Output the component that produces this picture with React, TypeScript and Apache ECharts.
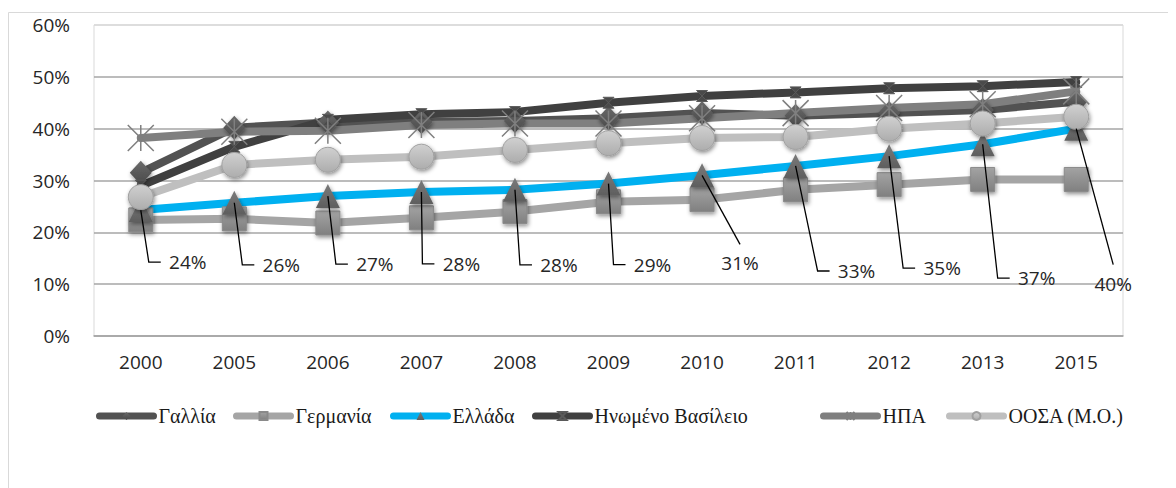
import React, { useEffect, useRef } from "react";
import * as echarts from "echarts";

const years = ["2000", "2005", "2006", "2007", "2008", "2009", "2010", "2011", "2012", "2013", "2015"];
const france = [31.5, 40.2, 41.2, 41.3, 41.5, 42.0, 43.0, 42.5, 43.0, 43.6, 45.2];
const germany = [22.4, 22.6, 21.8, 22.8, 24.0, 25.9, 26.3, 28.2, 29.2, 30.2, 30.2];
const greece = [24.3, 25.7, 27.0, 27.8, 28.2, 29.4, 31.0, 32.8, 34.7, 37.0, 40.0];
const uk = [29.0, 36.5, 41.7, 42.8, 43.2, 45.0, 46.3, 47.0, 47.8, 48.2, 49.0];
const usa = [38.2, 39.4, 39.6, 40.7, 41.0, 41.0, 42.0, 43.0, 44.0, 44.7, 47.2];
const oecd = [26.8, 33.0, 34.0, 34.6, 35.9, 37.2, 38.2, 38.4, 40.0, 41.0, 42.3];
const seriesNames = ["Γαλλία", "Γερμανία", "Ελλάδα", "Ηνωμένο Βασίλειο", "ΗΠΑ", "ΟΟΣΑ (Μ.Ο.)"];

// label placement offsets (px) for the Greece data labels, relative to each point (label centre)
const greeceLabelDx = [47, 47, 47, 40, 44, 44, 38, 61, 53, 54, 37];
const greeceLabelDy = [52, 62, 68, 72, 75, 81, 88, 105, 112, 134, 155];
// leader line attaches to the label's left side (L) or top (T)
const greeceLeaderSide = ["L", "L", "L", "L", "L", "L", "T", "L", "L", "L", "T"];
// legend item left positions (px)
const legendLefts = [88, 225, 382, 524, 812, 938];

const AXIS_FONT = "'Open Sans', 'DejaVu Sans', sans-serif";
const LEGEND_FONT = "'Liberation Serif', 'DejaVu Serif', serif";

const shadow = {
  shadowBlur: 4,
  shadowColor: "rgba(0,0,0,0.45)",
  shadowOffsetX: 1,
  shadowOffsetY: 2,
};

const grad = (top: string, bottom: string) =>
  new echarts.graphic.LinearGradient(0, 0, 0, 1, [
    { offset: 0, color: top },
    { offset: 1, color: bottom },
  ]);

export default function App() {
  const ref = useRef<HTMLDivElement>(null);
  useEffect(() => {
    if (!ref.current) return;
    const chart = echarts.init(ref.current, undefined, { renderer: "svg" });
    const lineBase = (name: string, data: number[], color: string) => ({
      name,
      type: "line",
      data,
      lineStyle: { color, width: 8, cap: "round", join: "round" },
      emphasis: { disabled: true },
    });
    chart.setOption({
      animation: false,
      graphic: [
        {
          type: "rect",
          shape: { x: 0.5, y: 4.5, width: 1300, height: 600 },
          style: { fill: "none", stroke: "#d9d9d9", lineWidth: 1 },
          silent: true,
        },
      ],
      grid: {
        left: 86,
        right: 53,
        top: 17,
        bottom: 152,
        show: true,
        borderColor: "#d9d9d9",
        borderWidth: 1,
      },
      legend: seriesNames.map((n, i) => ({
        data: [n],
        left: legendLefts[i],
        top: 398,
        padding: 0,
        itemWidth: 54,
        itemHeight: 10,
        lineStyle: { width: 7, cap: "round" },
        textStyle: { fontFamily: LEGEND_FONT, fontSize: 20, color: "#1a1a1a" },
        selectedMode: false,
      })),
      xAxis: {
        type: "category",
        data: years,
        boundaryGap: true,
        axisTick: { show: false },
        axisLine: { lineStyle: { color: "#a6a6a6", width: 1.5 } },
        axisLabel: { fontFamily: AXIS_FONT, fontSize: 19, color: "#262626", margin: 16 },
      },
      yAxis: {
        type: "value",
        min: 0,
        max: 60,
        interval: 10,
        axisLine: { show: false },
        axisTick: { show: false },
        axisLabel: {
          formatter: "{value}%",
          fontFamily: AXIS_FONT,
          fontSize: 19,
          color: "#262626",
          margin: 24,
        },
        splitLine: {
          lineStyle: {
            color: ["#a6a6a6", "#a6a6a6", "#a6a6a6", "#a6a6a6", "#a6a6a6", "#a6a6a6", "#d9d9d9"],
            width: 1.5,
          },
        },
      },
      series: [
        {
          ...lineBase(seriesNames[0], france, "#525252"),
          symbol: "diamond",
          symbolSize: [22, 24],
          itemStyle: { color: grad("#6a6a6a", "#484848"), ...shadow },
        },
        {
          ...lineBase(seriesNames[1], germany, "#a5a5a5"),
          symbol: "rect",
          symbolSize: 24,
          itemStyle: { color: grad("#a3a3a3", "#808080"), borderColor: "#8a8a8a", borderWidth: 1, ...shadow },
        },
        {
          ...lineBase(seriesNames[2], greece, "#00b0f0"),
          symbol: "triangle",
          symbolSize: [24, 24],
          itemStyle: { color: grad("#7a7a7a", "#5e5e5e"), ...shadow },
        },
        {
          ...lineBase(seriesNames[3], uk, "#404040"),
          symbol: "path://M0 0L10 0L0 10L10 10Z",
          symbolSize: 11,
          itemStyle: { color: "#4a4a4a", borderColor: "#5a5a5a", borderWidth: 1 },
        },
        {
          ...lineBase(seriesNames[4], usa, "#7f7f7f"),
          symbol: "path://M0 0L20 20M20 0L0 20M10 0L10 20",
          symbolSize: 26,
          itemStyle: { color: "#7f7f7f", borderColor: "#7f7f7f", borderWidth: 1.5 },
        },
        {
          ...lineBase(seriesNames[5], oecd, "#bfbfbf"),
          symbol: "circle",
          symbolSize: 25,
          itemStyle: { color: grad("#d0d0d0", "#adadad"), borderColor: "#a0a0a0", borderWidth: 1, ...shadow },
        },
        {
          name: "greeceLabels",
          type: "custom",
          silent: true,
          z: 10,
          data: greece.map((v, i) => [i, v]),
          encode: { x: 0, y: 1 },
          renderItem: (params: any, api: any) => {
            const i = params.dataIndex;
            const v = api.value(1);
            const p = api.coord([api.value(0), v]);
            const tx = p[0] + greeceLabelDx[i];
            const ty = p[1] + greeceLabelDy[i];
            const halfW = 19;
            const halfH = 11;
            let pts;
            if (greeceLeaderSide[i] === "L") {
              pts = [
                [p[0], p[1]],
                [tx - halfW - 20, ty],
                [tx - halfW - 8, ty],
              ];
            } else {
              pts = [
                [p[0], p[1]],
                [tx, ty - halfH - 8],
              ];
            }
            return {
              type: "group",
              children: [
                {
                  type: "polyline",
                  shape: { points: pts },
                  style: { stroke: "#000", lineWidth: 1.3, fill: "none" },
                },
                {
                  type: "text",
                  x: tx,
                  y: ty,
                  style: {
                    text: Math.round(v) + "%",
                    fontFamily: AXIS_FONT,
                    fontSize: 19,
                    fill: "#262626",
                    align: "center",
                    verticalAlign: "middle",
                  },
                },
              ],
            };
          },
        },
      ],
    });
    return () => chart.dispose();
  }, []);
  return <div ref={ref} style={{ width: 1168, height: 480 }} />;
}
